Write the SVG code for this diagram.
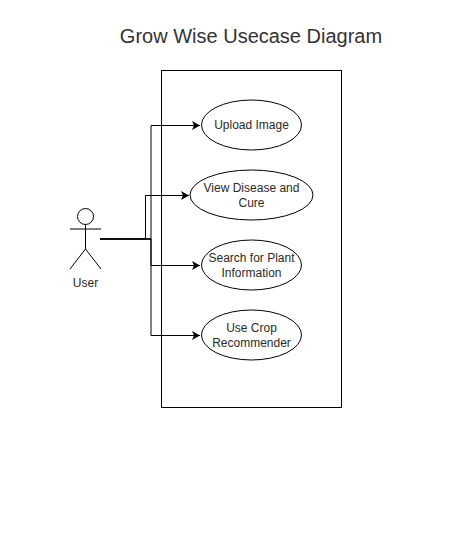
<svg xmlns="http://www.w3.org/2000/svg" width="471" height="535" viewBox="0 0 471 535">
<style>
.s{fill:none;stroke:#000;stroke-width:1}
.n{fill:#fff;stroke:#000;stroke-width:1}
text{font-family:"Liberation Sans",Arial,sans-serif;font-size:12px;fill:#2a2a2a;text-anchor:middle}
.t{font-size:20px;fill:#333}
</style>
<defs><marker id="a" markerUnits="userSpaceOnUse" markerWidth="9" markerHeight="10" refX="8" refY="4.500" orient="auto"><path d="M0 0L8 4.500L0 9L2 4.500Z" fill="#000"/></marker></defs>
<rect width="471" height="535" fill="#fff"/>
<text class="t" x="251" y="43">Grow Wise Usecase Diagram</text>
<g id="boundary"><rect class="n" x="161.500" y="70.500" width="180" height="337"/></g>
<g id="connectors">
<path class="s" d="M100 239H151V125.500H200" marker-end="url(#a)"/>
<path class="s" d="M100 239H145.500V195.500H189" marker-end="url(#a)"/>
<path class="s" d="M100 239H151V265.500H200" marker-end="url(#a)"/>
<path class="s" d="M100 239H151V335.500H200" marker-end="url(#a)"/>
</g>
<g id="actor-user"><circle class="n" cx="85.500" cy="216.500" r="8"/><path class="s" d="M85.500 224.500V249M70 229H101M85.500 249L70 269M85.500 249L101 269"/><text x="85.500" y="287">User</text></g>
<g id="upload-image"><ellipse class="n" cx="251.500" cy="125" rx="50" ry="25"/><text x="251.500" y="129">Upload Image</text></g>
<g id="view-disease"><ellipse class="n" cx="251.500" cy="195" rx="61.500" ry="25"/><text x="251.500" y="192">View Disease and</text><text x="251.500" y="207">Cure</text></g>
<g id="search-plant"><ellipse class="n" cx="251.500" cy="265" rx="50" ry="25"/><text x="251.500" y="262">Search for Plant</text><text x="251.500" y="277">Information</text></g>
<g id="crop-recommender"><ellipse class="n" cx="251.500" cy="335" rx="50" ry="25"/><text x="251.500" y="332">Use Crop</text><text x="251.500" y="347">Recommender</text></g>
</svg>
